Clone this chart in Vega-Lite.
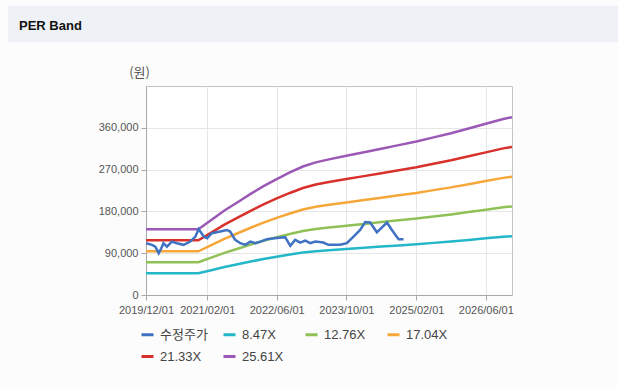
{
  "$schema": "https://vega.github.io/schema/vega-lite/v6.json",
  "padding": {"left": 8, "top": 6, "right": 0, "bottom": 24},
  "background": "#fcfcfc",
  "bounds": "flush",
  "spacing": 44,
  "config": {
    "font": "Liberation Sans",
    "axis": {
      "labelFont": "Liberation Sans",
      "labelFontSize": 11,
      "labelColor": "#555555",
      "domainColor": "#a8a8a8",
      "tickColor": "#a8a8a8",
      "tickSize": 5,
      "gridColor": "#e6e6e6",
      "labelPadding": 3
    }
  },
  "datasets": {
    "bands": [
      {"d": "2019-12-01", "s": "8.47X", "v": 46797}, {"d": "2019-12-01", "s": "12.76X", "v": 70499}, {"d": "2019-12-01", "s": "17.04X", "v": 94146}, {"d": "2019-12-01", "s": "21.33X", "v": 117848}, {"d": "2019-12-01", "s": "25.61X", "v": 141495},
      {"d": "2020-12-01", "s": "8.47X", "v": 46797}, {"d": "2020-12-01", "s": "12.76X", "v": 70499}, {"d": "2020-12-01", "s": "17.04X", "v": 94146}, {"d": "2020-12-01", "s": "21.33X", "v": 117848}, {"d": "2020-12-01", "s": "25.61X", "v": 141495},
      {"d": "2021-03-01", "s": "8.47X", "v": 53361}, {"d": "2021-03-01", "s": "12.76X", "v": 80388}, {"d": "2021-03-01", "s": "17.04X", "v": 107352}, {"d": "2021-03-01", "s": "21.33X", "v": 134379}, {"d": "2021-03-01", "s": "25.61X", "v": 161343},
      {"d": "2021-06-01", "s": "8.47X", "v": 60137}, {"d": "2021-06-01", "s": "12.76X", "v": 90596}, {"d": "2021-06-01", "s": "17.04X", "v": 120984}, {"d": "2021-06-01", "s": "21.33X", "v": 151443}, {"d": "2021-06-01", "s": "25.61X", "v": 181831},
      {"d": "2021-09-01", "s": "8.47X", "v": 66066}, {"d": "2021-09-01", "s": "12.76X", "v": 99528}, {"d": "2021-09-01", "s": "17.04X", "v": 132912}, {"d": "2021-09-01", "s": "21.33X", "v": 166374}, {"d": "2021-09-01", "s": "25.61X", "v": 199758},
      {"d": "2021-12-01", "s": "8.47X", "v": 71995}, {"d": "2021-12-01", "s": "12.76X", "v": 108460}, {"d": "2021-12-01", "s": "17.04X", "v": 144840}, {"d": "2021-12-01", "s": "21.33X", "v": 181305}, {"d": "2021-12-01", "s": "25.61X", "v": 217685},
      {"d": "2022-03-01", "s": "8.47X", "v": 77501}, {"d": "2022-03-01", "s": "12.76X", "v": 116754}, {"d": "2022-03-01", "s": "17.04X", "v": 155916}, {"d": "2022-03-01", "s": "21.33X", "v": 195170}, {"d": "2022-03-01", "s": "25.61X", "v": 234332},
      {"d": "2022-06-01", "s": "8.47X", "v": 82583}, {"d": "2022-06-01", "s": "12.76X", "v": 124410}, {"d": "2022-06-01", "s": "17.04X", "v": 166140}, {"d": "2022-06-01", "s": "21.33X", "v": 207968}, {"d": "2022-06-01", "s": "25.61X", "v": 249698},
      {"d": "2022-09-01", "s": "8.47X", "v": 87241}, {"d": "2022-09-01", "s": "12.76X", "v": 131428}, {"d": "2022-09-01", "s": "17.04X", "v": 175512}, {"d": "2022-09-01", "s": "21.33X", "v": 219699}, {"d": "2022-09-01", "s": "25.61X", "v": 263783},
      {"d": "2022-12-01", "s": "8.47X", "v": 91476}, {"d": "2022-12-01", "s": "12.76X", "v": 137808}, {"d": "2022-12-01", "s": "17.04X", "v": 184032}, {"d": "2022-12-01", "s": "21.33X", "v": 230364}, {"d": "2022-12-01", "s": "25.61X", "v": 276588},
      {"d": "2023-03-01", "s": "8.47X", "v": 94441}, {"d": "2023-03-01", "s": "12.76X", "v": 142274}, {"d": "2023-03-01", "s": "17.04X", "v": 189996}, {"d": "2023-03-01", "s": "21.33X", "v": 237830}, {"d": "2023-03-01", "s": "25.61X", "v": 285552},
      {"d": "2023-06-01", "s": "8.47X", "v": 96558}, {"d": "2023-06-01", "s": "12.76X", "v": 145464}, {"d": "2023-06-01", "s": "17.04X", "v": 194256}, {"d": "2023-06-01", "s": "21.33X", "v": 243162}, {"d": "2023-06-01", "s": "25.61X", "v": 291954},
      {"d": "2023-10-01", "s": "8.47X", "v": 99099}, {"d": "2023-10-01", "s": "12.76X", "v": 149292}, {"d": "2023-10-01", "s": "17.04X", "v": 199368}, {"d": "2023-10-01", "s": "21.33X", "v": 249561}, {"d": "2023-10-01", "s": "25.61X", "v": 299637},
      {"d": "2024-02-01", "s": "8.47X", "v": 101640}, {"d": "2024-02-01", "s": "12.76X", "v": 153120}, {"d": "2024-02-01", "s": "17.04X", "v": 204480}, {"d": "2024-02-01", "s": "21.33X", "v": 255960}, {"d": "2024-02-01", "s": "25.61X", "v": 307320},
      {"d": "2024-06-01", "s": "8.47X", "v": 104181}, {"d": "2024-06-01", "s": "12.76X", "v": 156948}, {"d": "2024-06-01", "s": "17.04X", "v": 209592}, {"d": "2024-06-01", "s": "21.33X", "v": 262359}, {"d": "2024-06-01", "s": "25.61X", "v": 315003},
      {"d": "2024-10-01", "s": "8.47X", "v": 106722}, {"d": "2024-10-01", "s": "12.76X", "v": 160776}, {"d": "2024-10-01", "s": "17.04X", "v": 214704}, {"d": "2024-10-01", "s": "21.33X", "v": 268758}, {"d": "2024-10-01", "s": "25.61X", "v": 322686},
      {"d": "2025-02-01", "s": "8.47X", "v": 109263}, {"d": "2025-02-01", "s": "12.76X", "v": 164604}, {"d": "2025-02-01", "s": "17.04X", "v": 219816}, {"d": "2025-02-01", "s": "21.33X", "v": 275157}, {"d": "2025-02-01", "s": "25.61X", "v": 330369},
      {"d": "2025-06-01", "s": "8.47X", "v": 112228}, {"d": "2025-06-01", "s": "12.76X", "v": 169070}, {"d": "2025-06-01", "s": "17.04X", "v": 225780}, {"d": "2025-06-01", "s": "21.33X", "v": 282623}, {"d": "2025-06-01", "s": "25.61X", "v": 339333},
      {"d": "2025-10-01", "s": "8.47X", "v": 115192}, {"d": "2025-10-01", "s": "12.76X", "v": 173536}, {"d": "2025-10-01", "s": "17.04X", "v": 231744}, {"d": "2025-10-01", "s": "21.33X", "v": 290088}, {"d": "2025-10-01", "s": "25.61X", "v": 348296},
      {"d": "2026-02-01", "s": "8.47X", "v": 118580}, {"d": "2026-02-01", "s": "12.76X", "v": 178640}, {"d": "2026-02-01", "s": "17.04X", "v": 238560}, {"d": "2026-02-01", "s": "21.33X", "v": 298620}, {"d": "2026-02-01", "s": "25.61X", "v": 358540},
      {"d": "2026-06-01", "s": "8.47X", "v": 121968}, {"d": "2026-06-01", "s": "12.76X", "v": 183744}, {"d": "2026-06-01", "s": "17.04X", "v": 245376}, {"d": "2026-06-01", "s": "21.33X", "v": 307152}, {"d": "2026-06-01", "s": "25.61X", "v": 368784},
      {"d": "2026-10-01", "s": "8.47X", "v": 125356}, {"d": "2026-10-01", "s": "12.76X", "v": 188848}, {"d": "2026-10-01", "s": "17.04X", "v": 252192}, {"d": "2026-10-01", "s": "21.33X", "v": 315684}, {"d": "2026-10-01", "s": "25.61X", "v": 379028},
      {"d": "2026-12-01", "s": "8.47X", "v": 126627}, {"d": "2026-12-01", "s": "12.76X", "v": 190762}, {"d": "2026-12-01", "s": "17.04X", "v": 254748}, {"d": "2026-12-01", "s": "21.33X", "v": 318884}, {"d": "2026-12-01", "s": "25.61X", "v": 382870}
    ],
    "price": [
      {"d": "2019-12-01", "s": "수정주가", "v": 111500},
      {"d": "2020-01-12", "s": "수정주가", "v": 108000},
      {"d": "2020-02-04", "s": "수정주가", "v": 104000},
      {"d": "2020-02-28", "s": "수정주가", "v": 90000},
      {"d": "2020-03-16", "s": "수정주가", "v": 100000},
      {"d": "2020-04-01", "s": "수정주가", "v": 111500},
      {"d": "2020-04-25", "s": "수정주가", "v": 104000},
      {"d": "2020-05-30", "s": "수정주가", "v": 115000},
      {"d": "2020-07-04", "s": "수정주가", "v": 111500},
      {"d": "2020-08-20", "s": "수정주가", "v": 108000},
      {"d": "2020-10-05", "s": "수정주가", "v": 115000},
      {"d": "2020-11-10", "s": "수정주가", "v": 125800},
      {"d": "2020-12-03", "s": "수정주가", "v": 141800},
      {"d": "2021-01-07", "s": "수정주가", "v": 125800},
      {"d": "2021-01-31", "s": "수정주가", "v": 122400},
      {"d": "2021-03-05", "s": "수정주가", "v": 133000},
      {"d": "2021-05-02", "s": "수정주가", "v": 136600},
      {"d": "2021-06-18", "s": "수정주가", "v": 140000},
      {"d": "2021-07-11", "s": "수정주가", "v": 136600},
      {"d": "2021-08-15", "s": "수정주가", "v": 118700},
      {"d": "2021-09-20", "s": "수정주가", "v": 111500},
      {"d": "2021-10-24", "s": "수정주가", "v": 108000},
      {"d": "2021-11-29", "s": "수정주가", "v": 115000},
      {"d": "2022-01-03", "s": "수정주가", "v": 111500},
      {"d": "2022-02-07", "s": "수정주가", "v": 115000},
      {"d": "2022-03-24", "s": "수정주가", "v": 120000},
      {"d": "2022-05-15", "s": "수정주가", "v": 122000},
      {"d": "2022-07-30", "s": "수정주가", "v": 124500},
      {"d": "2022-09-04", "s": "수정주가", "v": 105700},
      {"d": "2022-10-08", "s": "수정주가", "v": 118700},
      {"d": "2022-11-13", "s": "수정주가", "v": 112900},
      {"d": "2022-12-17", "s": "수정주가", "v": 117000},
      {"d": "2023-01-22", "s": "수정주가", "v": 111500},
      {"d": "2023-02-26", "s": "수정주가", "v": 115000},
      {"d": "2023-04-23", "s": "수정주가", "v": 112900},
      {"d": "2023-05-28", "s": "수정주가", "v": 108000},
      {"d": "2023-08-18", "s": "수정주가", "v": 108000},
      {"d": "2023-10-04", "s": "수정주가", "v": 111500},
      {"d": "2023-11-20", "s": "수정주가", "v": 125800},
      {"d": "2024-01-05", "s": "수정주가", "v": 140000},
      {"d": "2024-02-10", "s": "수정주가", "v": 157000},
      {"d": "2024-03-15", "s": "수정주가", "v": 156000},
      {"d": "2024-05-01", "s": "수정주가", "v": 135000},
      {"d": "2024-07-10", "s": "수정주가", "v": 156000},
      {"d": "2024-08-14", "s": "수정주가", "v": 140000},
      {"d": "2024-09-18", "s": "수정주가", "v": 125000},
      {"d": "2024-09-30", "s": "수정주가", "v": 120000},
      {"d": "2024-11-03", "s": "수정주가", "v": 120000}
    ]
  },
  "vconcat": [
    {
      "width": 610,
      "height": 36,
      "data": {"values": []},
      "mark": "point",
      "view": {"fill": "#eef2f6", "stroke": null},
      "title": {
        "text": "PER Band",
        "anchor": "start",
        "frame": "group",
        "offset": -27,
        "dx": 11,
        "fontSize": 13,
        "fontWeight": "bold",
        "font": "Liberation Sans",
        "color": "#111111"
      }
    },
    {
      "spacing": 0,
      "bounds": "flush",
      "hconcat": [
        {
          "width": 138,
          "height": 209,
          "data": {"values": []},
          "mark": "point",
          "view": {"stroke": null}
        },
        {
          "width": 366,
          "height": 209,
          "view": {"fill": "#ffffff", "stroke": "#c4c4c4"},
          "encoding": {
            "x": {
              "field": "d",
              "type": "temporal",
              "scale": {
                "type": "utc",
                "domain": [
                  {"year": 2019, "month": 12, "date": 1, "utc": true},
                  {"year": 2026, "month": 12, "date": 1, "utc": true}
                ]
              },
              "axis": {
                "title": null,
                "labelExpr": "utcFormat(datum.value, '%Y/%m/%d')",
                "labelFlush": false,
                "labelOverlap": false,
                "labelPadding": 4,
                "values": [
                  {"year": 2019, "month": 12, "date": 1, "utc": true},
                  {"year": 2021, "month": 2, "date": 1, "utc": true},
                  {"year": 2022, "month": 6, "date": 1, "utc": true},
                  {"year": 2023, "month": 10, "date": 1, "utc": true},
                  {"year": 2025, "month": 2, "date": 1, "utc": true},
                  {"year": 2026, "month": 6, "date": 1, "utc": true}
                ]
              }
            },
            "y": {
              "field": "v",
              "type": "quantitative",
              "scale": {"domain": [0, 450000], "nice": false},
              "axis": {
                "values": [0, 90000, 180000, 270000, 360000],
                "labelExpr": "format(datum.value, ',')",
                "title": "(원)",
                "titleAngle": 0,
                "titleX": -7,
                "titleY": -14,
                "titleAlign": "center",
                "titleBaseline": "middle",
                "titleFont": "Noto Sans CJK KR",
                "titleFontSize": 13,
                "titleFontWeight": "normal",
                "titleColor": "#555555"
              }
            },
            "color": {
              "field": "s",
              "type": "nominal",
              "sort": ["수정주가", "8.47X", "12.76X", "17.04X", "21.33X", "25.61X"],
              "scale": {
                "domain": ["수정주가", "8.47X", "12.76X", "17.04X", "21.33X", "25.61X"],
                "range": ["#3f72c2", "#24b7c9", "#8fc157", "#f7a73a", "#d8312b", "#9b58b5"]
              },
              "legend": {
                "title": null,
                "orient": "none",
                "legendX": 132,
                "legendY": 321,
                "direction": "horizontal",
                "columns": 4,
                "gridAlign": "all",
                "symbolType": "stroke",
                "symbolSize": 144,
                "symbolStrokeWidth": 3,
                "labelFontSize": 13,
                "labelFont": "Liberation Sans, Noto Sans CJK KR",
                "labelColor": "#444444",
                "labelOffset": 5,
                "columnPadding": 9,
                "rowPadding": 7
              }
            }
          },
          "layer": [
            {
              "data": {"name": "bands"},
              "mark": {"type": "line", "strokeWidth": 2.5}
            },
            {
              "data": {"name": "price"},
              "mark": {"type": "line", "strokeWidth": 2.5}
            }
          ]
        }
      ]
    }
  ]
}
